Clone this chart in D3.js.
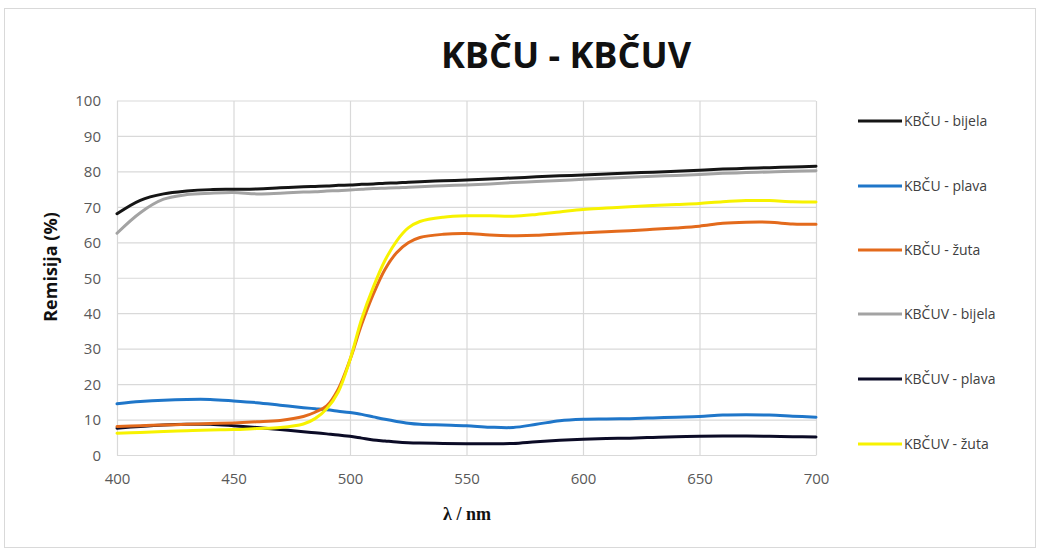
<!DOCTYPE html>
<html><head><meta charset="utf-8">
<script src="https://cdn.jsdelivr.net/npm/d3@7"></script>
<style>body{margin:0;background:#fff;}svg{display:block;}</style>
</head><body>
<svg id="c" width="1039" height="549"></svg>
<script>
const wavelengths = [400,410,420,430,440,450,460,470,480,485,490,495,500,505,510,515,520,525,530,540,550,560,570,580,590,600,610,620,630,640,650,660,670,680,690,700];
const kbcuBijela  = [68.2,72.0,73.8,74.6,75.0,75.1,75.2,75.5,75.8,75.9,76.0,76.2,76.3,76.5,76.6,76.8,76.9,77.1,77.2,77.5,77.7,78.0,78.3,78.6,78.9,79.1,79.4,79.7,79.9,80.2,80.5,80.8,81.0,81.2,81.4,81.6];
const kbcuPlava   = [14.6,15.2,15.6,15.8,15.8,15.4,14.9,14.2,13.5,13.2,12.9,12.5,12.1,11.6,10.9,10.2,9.6,9.1,8.8,8.6,8.4,8.0,7.9,8.8,9.8,10.2,10.3,10.4,10.6,10.8,11.0,11.4,11.5,11.4,11.1,10.8];
const kbcuZuta    = [8.2,8.4,8.6,8.8,9.0,9.2,9.5,9.9,11.0,12.2,14.0,18.8,27.0,37.0,45.5,52.5,57.2,60.0,61.5,62.4,62.6,62.2,62.0,62.1,62.5,62.8,63.1,63.4,63.8,64.2,64.7,65.5,65.8,65.8,65.3,65.2];
const kbcuvBijela = [62.7,68.5,72.3,73.6,74.0,74.2,73.8,74.0,74.3,74.4,74.6,74.7,74.9,75.1,75.3,75.4,75.5,75.7,75.8,76.1,76.3,76.6,77.0,77.3,77.6,77.9,78.2,78.5,78.8,79.0,79.3,79.6,79.8,80.0,80.2,80.3];
const kbcuvPlava  = [7.7,8.2,8.6,8.8,8.8,8.4,7.9,7.3,6.7,6.4,6.1,5.8,5.4,4.9,4.4,4.1,3.8,3.6,3.5,3.4,3.3,3.3,3.4,3.9,4.3,4.6,4.8,4.9,5.1,5.3,5.4,5.5,5.5,5.4,5.3,5.2];
const kbcuvZuta   = [6.3,6.5,6.8,7.0,7.2,7.3,7.6,7.9,8.9,10.4,13.2,18.0,27.0,38.5,47.5,55.0,60.5,64.2,66.0,67.2,67.6,67.6,67.5,68.0,68.7,69.4,69.8,70.2,70.5,70.8,71.1,71.6,71.9,71.9,71.6,71.5];
const seriesNames = ["KBČU - bijela","KBČU - plava","KBČU - žuta","KBČUV - bijela","KBČUV - plava","KBČUV - žuta"];
const seriesColors = ["#151515","#1f76c9","#e36a1c","#a3a3a3","#0b0b26","#f7f200"];
const xTicks = [400,450,500,550,600,650,700];
const yTicks = [0,10,20,30,40,50,60,70,80,90,100];
const title = "KBČU - KBČUV";
const xTitle = "λ / nm";
const yTitle = "Remisija (%)";

const seriesValues = [kbcuBijela,kbcuPlava,kbcuZuta,kbcuvBijela,kbcuvPlava,kbcuvZuta];
const svg = d3.select("#c");
svg.append("rect").attr("x",4.5).attr("y",8.5).attr("width",1031).attr("height",539)
  .attr("fill","#fff").attr("stroke","#d9d9d9");

const L=117,R=816,T=101,B=455.5;
const x = d3.scaleLinear().domain([400,700]).range([L,R]);
const y = d3.scaleLinear().domain([0,100]).range([B,T]);

// grid
svg.append("g").selectAll("line").data(yTicks).join("line")
  .attr("x1",L).attr("x2",R).attr("y1",d=>y(d)).attr("y2",d=>y(d))
  .attr("stroke","#d9d9d9").attr("stroke-width",1.2);
svg.append("g").selectAll("line").data(xTicks).join("line")
  .attr("y1",T).attr("y2",B).attr("x1",d=>x(d)+0.5).attr("x2",d=>x(d)+0.5)
  .attr("stroke","#d9d9d9").attr("stroke-width",1.2);

// axes via d3 axis
const fontTick = "'Open Sans', 'Liberation Sans', sans-serif";
const xa = svg.append("g").attr("transform",`translate(0,${B})`)
  .call(d3.axisBottom(x).tickValues(xTicks).tickSize(0).tickPadding(18));
xa.select(".domain").remove();
xa.selectAll("text").attr("font-family",fontTick).attr("font-size",15).attr("fill","#595959");
const ya = svg.append("g").attr("transform",`translate(${L},0)`)
  .call(d3.axisLeft(y).tickValues(yTicks).tickSize(0).tickPadding(16));
ya.select(".domain").remove();
ya.selectAll("text").attr("font-family",fontTick).attr("font-size",15).attr("fill","#595959");

// lines
const line = d3.line().curve(d3.curveCatmullRom.alpha(0.5)).x((d,i)=>x(wavelengths[i])).y(d=>y(d));
const drawOrder=[0,3,1,4,2,5];
drawOrder.forEach(k=>{
  svg.append("path").datum(seriesValues[k]).attr("d",line)
    .attr("fill","none").attr("stroke",seriesColors[k]).attr("stroke-width",3)
    .attr("stroke-linejoin","round").attr("stroke-linecap","round");
});

// title
svg.append("text").attr("x",566).attr("y",68).attr("text-anchor","middle")
  .attr("font-family","'Open Sans', sans-serif").attr("font-weight","bold").attr("font-size",36)
  .attr("fill","#111").text(title);
svg.append("text").attr("x",467).attr("y",520).attr("text-anchor","middle")
  .attr("font-family","'Liberation Serif', serif").attr("font-weight","bold").attr("font-size",18)
  .attr("fill","#111").text(xTitle);
svg.append("text").attr("transform",`translate(57,267) rotate(-90)`).attr("text-anchor","middle")
  .attr("font-family","'Open Sans', sans-serif").attr("font-weight","bold").attr("font-size",18)
  .attr("fill","#111").text(yTitle);

// legend
const legY = [121,186,250,314,379,444];
const lg = svg.append("g");
seriesNames.forEach((n,i)=>{
  lg.append("line").attr("x1",858).attr("x2",902).attr("y1",legY[i]).attr("y2",legY[i])
    .attr("stroke",seriesColors[i]).attr("stroke-width",3);
  lg.append("text").attr("x",904).attr("y",legY[i]+5).attr("font-family",fontTick)
    .attr("font-size",14).attr("fill","#404040").text(n);
});
</script>
</body></html>
